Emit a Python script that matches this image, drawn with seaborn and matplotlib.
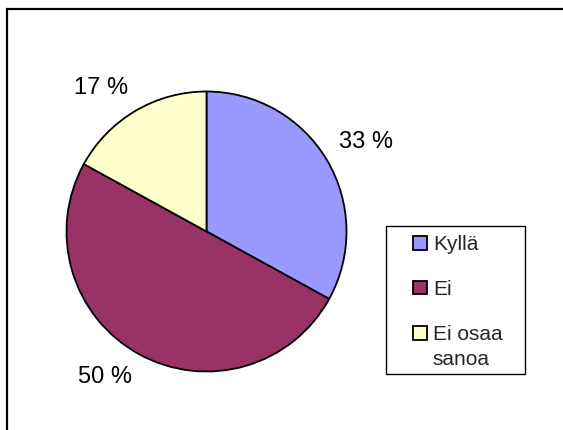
import matplotlib
matplotlib.use("Agg")
import numpy as np
import matplotlib.pyplot as plt
from matplotlib.patches import Patch, Rectangle
from matplotlib.legend_handler import HandlerPatch
import seaborn as sns

categories = ["Kyllä", "Ei", "Ei osaa\nsanoa"]
values = [33, 50, 17]
colors = ["#9999FF", "#993366", "#FFFFCC"]

sns.set_theme(style="white")
plt.rcParams["font.family"] = ["Liberation Sans", "DejaVu Sans"]

W, H = 563, 430
fig = plt.figure(figsize=(W / 100, H / 100), dpi=100)
fig.patch.set_facecolor("white")

# outer frame (cut off at right and bottom as in the reference)
fig.patches.append(Rectangle((7 / W, -0.05), 1.2, 1 - 9 / H + 0.05,
                             transform=fig.transFigure, fill=False,
                             edgecolor="black", linewidth=1.6))

cx, cy, r = 206.5, 231.5, 140
ax = fig.add_axes([(cx - r) / W, (H - cy - r) / H, 2 * r / W, 2 * r / H])
palette = sns.color_palette(colors)
wedges, texts = ax.pie(
    values, colors=palette, startangle=90, counterclock=False,
    wedgeprops=dict(edgecolor="black", linewidth=1.3))
ax.set_xlim(-1, 1)
ax.set_ylim(-1, 1)
ax.set_aspect("auto")
ax.axis("off")

# Excel-style percentage labels: text corner placed just outside the wedge middle
total = sum(values)
for w, v in zip(wedges, values):
    mid = np.deg2rad((w.theta1 + w.theta2) / 2)
    x, y = 1.1 * np.cos(mid), 1.1 * np.sin(mid)
    ax.text(x, y, f"{100 * v / total:.0f} %", fontsize=17, color="black",
            ha="left" if x > 0 else "right",
            va="bottom" if y > 0 else "top")

# legend frame
lx0, ly0, lx1, ly1 = 386, 226, 525, 374
fig.patches.append(Rectangle((lx0 / W, 1 - ly1 / H), (lx1 - lx0) / W, (ly1 - ly0) / H,
                             transform=fig.transFigure, fill=False,
                             edgecolor="black", linewidth=1.0))

LS = 1.4


def make_handler(n_lines):
    def patch_func(legend, orig_handle, xdescent, ydescent, width, height, fontsize):
        shift = (n_lines - 1) * 0.5 * fontsize * LS * 0.98
        return Rectangle((-xdescent, -ydescent + shift), width, height)
    return HandlerPatch(patch_func=patch_func)


handles = [Patch(facecolor=c, edgecolor="black", linewidth=1.3) for c in colors]
hmap = {h: make_handler(lab.count("\n") + 1) for h, lab in zip(handles, categories)}
leg = fig.legend(handles, categories, loc="upper left",
                 bbox_to_anchor=(413 / W, 1 - 235 / H),
                 fontsize=15, frameon=False, handler_map=hmap,
                 handlelength=0.65, handleheight=0.65, handletextpad=0.3,
                 labelspacing=1.24, borderpad=0, borderaxespad=0)
for t in leg.get_texts():
    t.set_linespacing(LS)
    t.set_multialignment("left")

fig.savefig("out.png", dpi=100, facecolor="white")
